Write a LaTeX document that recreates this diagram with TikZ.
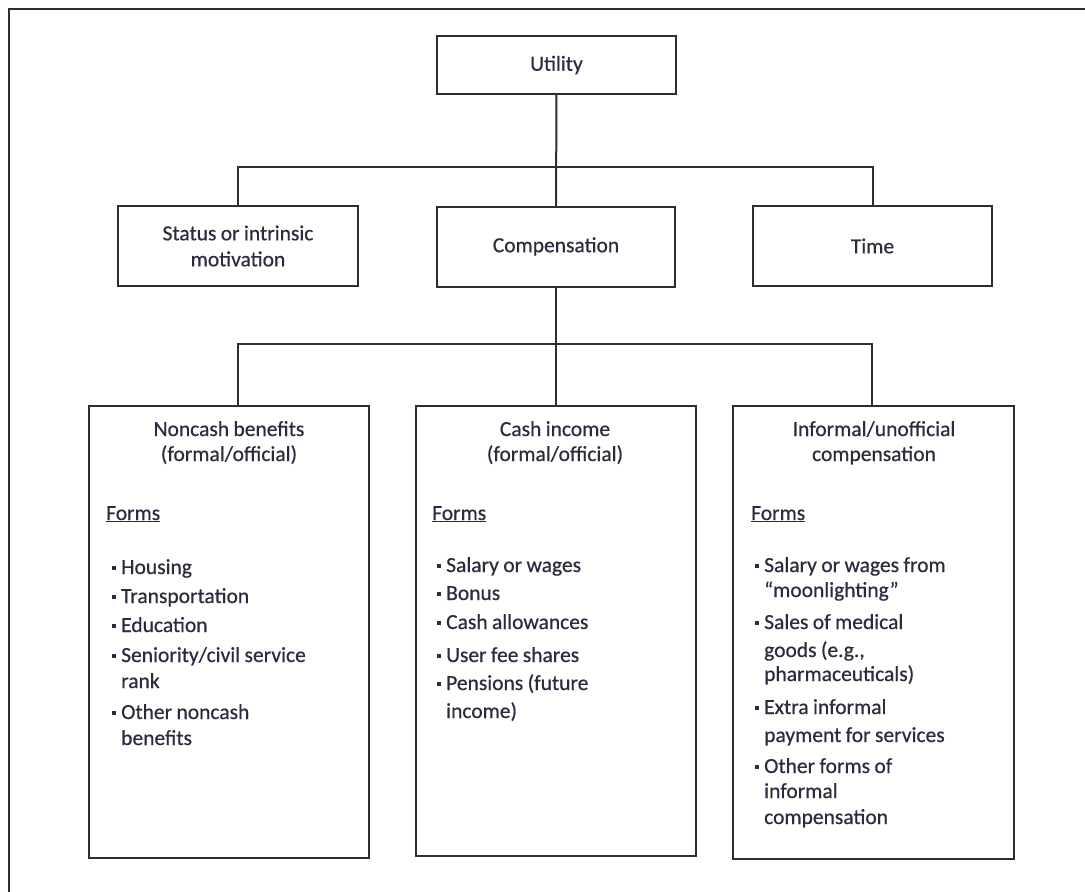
\documentclass[tikz,border=0pt]{standalone}
\usepackage{fontspec}
\setmainfont{Carlito}[FakeBold=0.5]
\definecolor{txt}{rgb}{0.17,0.17,0.25}
\definecolor{ln}{rgb}{0.18,0.18,0.18}
\newcommand\bul{\makebox[9pt][l]{\raisebox{0.2em}{\rule{3.4pt}{3.4pt}}}}
\newcommand\cnt{\hspace*{9pt}}
\newcommand\ws{\spaceskip=4.4pt\relax}
\begin{document}
\begin{tikzpicture}[x=1pt,y=-1pt,
  box/.style={draw=ln, line width=2pt, rectangle, inner sep=0pt, outer sep=0pt,
    align=center, text=txt, font=\fontsize{21.5}{26}\selectfont},
  conn/.style={draw=ln, line width=2pt},
  ttl/.style={anchor=base, align=center, text width=270pt, inner sep=0pt, text=txt,
    font=\fontsize{21.5}{25}\selectfont},
  frm/.style={anchor=base west, inner sep=0pt, text=txt, font=\fontsize{21.5}{26}\selectfont},
  lst/.style={anchor=base west, align=left, text width=250pt, inner sep=0pt, text=txt,
    font=\fontsize{21.5}{26}\selectfont}]
\useasboundingbox (0,0) rectangle (1085,892);
\clip (0,0) rectangle (1085,892);
\fill[white] (0,0) rectangle (1085,892);
% outer frame
\draw[draw=ln, line width=2.2pt] (1095,9) -- (9,9) -- (9,900);
% top level
\node[box, minimum width=239pt, minimum height=58pt] (util) at (556.5,65) {Utility};
\node[box, minimum width=240pt, minimum height=80pt] (status) at (238,246) {\ws Status or intrinsic\\motivation};
\node[box, minimum width=238pt, minimum height=80pt] (comp) at (556,246.5) {Compensation};
\node[box, minimum width=239pt, minimum height=80pt] (time) at (872.5,246) {Time};
\coordinate (j1) at (556.5,167);
\draw[conn] (util.south) -- (comp.north);
\draw[conn] (status.north) |- (j1) -| (time.north);
% bottom level
\node[box, minimum width=280pt, minimum height=452pt] (noncash) at (229,632) {};
\node[box, minimum width=280pt, minimum height=450pt] (cash) at (556,631) {};
\node[box, minimum width=281pt, minimum height=453pt] (informal) at (873.5,632.5) {};
\coordinate (jl) at (238,344);
\coordinate (jr) at (872,344);
\draw[conn] (comp.south) -- (cash.north);
\draw[conn] (jl |- noncash.north) -- (jl) -- (jr) -- (jr |- informal.north);
% noncash contents
\node[ttl] (t1) at (229,436) {\ws Noncash benefits\\(formal/official)};
\node[frm] (f1) at (106,520) {\underline{Forms}};
\node[lst] (l1) at (112,574) {\ws\bul Housing\\[3pt]
\bul Transportation\\[3pt]
\bul Education\\[4pt]
\bul Seniority/civil service\\
\cnt rank\\[5pt]
\bul Other noncash\\
\cnt benefits};
% cash contents
\node[ttl] (t2) at (555,436) {\ws Cash income\\(formal/official)};
\node[frm] (f2) at (432,520) {\underline{Forms}};
\node[lst] (l2) at (437,572) {\ws\bul Salary or wages\\[2pt]
\bul Bonus\\[3pt]
\bul Cash allowances\\[7pt]
\bul User fee shares\\[2pt]
\bul Pensions (future\\[2pt]
\cnt income)};
% informal contents
\node[ttl] (t3) at (874,436) {\ws Informal/unofficial\\compensation};
\node[frm] (f3) at (751,520) {\underline{Forms}};
\node[lst] (l3) at (755,572) {\ws\bul Salary or wages from\\[-1pt]
\cnt “moonlighting”\\[6pt]
\bul Sales of medical\\[2pt]
\cnt goods (e.g.,\\[-2pt]
\cnt pharmaceuticals)\\[7pt]
\bul Extra informal\\[2pt]
\cnt payment for services\\[5pt]
\bul Other forms of\\[-1pt]
\cnt informal\\
\cnt compensation};
\end{tikzpicture}
\end{document}
